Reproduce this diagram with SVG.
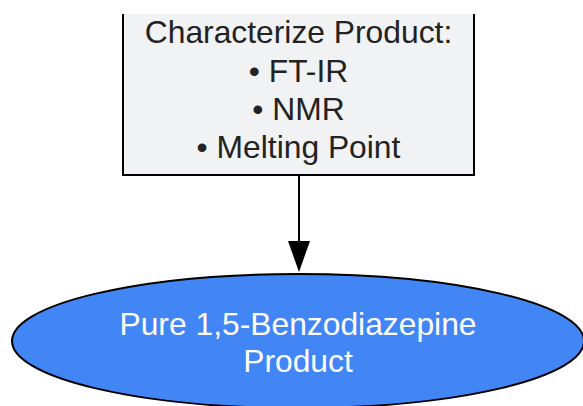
<svg xmlns="http://www.w3.org/2000/svg" width="583" height="406" viewBox="0 0 583 406">
<defs>
<style>
.t{font-family:"Liberation Sans",Arial,sans-serif;font-size:31.8px;text-anchor:middle}
.dark{fill:#222222}
.light{fill:#ffffff}
.edge{stroke:#000;stroke-width:2;fill:none}
</style>
</defs>
<rect width="583" height="406" fill="#ffffff"/>
<g id="characterize">
<rect x="123" y="14" width="351" height="161" fill="#f1f2f4"/>
<path d="M123,14 V175 H474 V14" class="edge"/>
<text class="t dark" x="298.5" y="43">Characterize Product:</text>
<text class="t dark" x="298.5" y="81.5">• FT-IR</text>
<text class="t dark" x="298.5" y="119.5">• NMR</text>
<text class="t dark" x="298.5" y="157.5">• Melting Point</text>
</g>
<g id="connectors">
<line x1="299" y1="175" x2="299" y2="245" class="edge"/>
<path d="M288,241 L310,241 L299,272 Z" fill="#000"/>
</g>
<g id="product">
<ellipse cx="298" cy="341" rx="286" ry="67" fill="#4285f4" stroke="#000" stroke-width="2"/>
<text class="t light" x="298" y="335">Pure 1,5-Benzodiazepine</text>
<text class="t light" x="298" y="372">Product</text>
</g>
</svg>
